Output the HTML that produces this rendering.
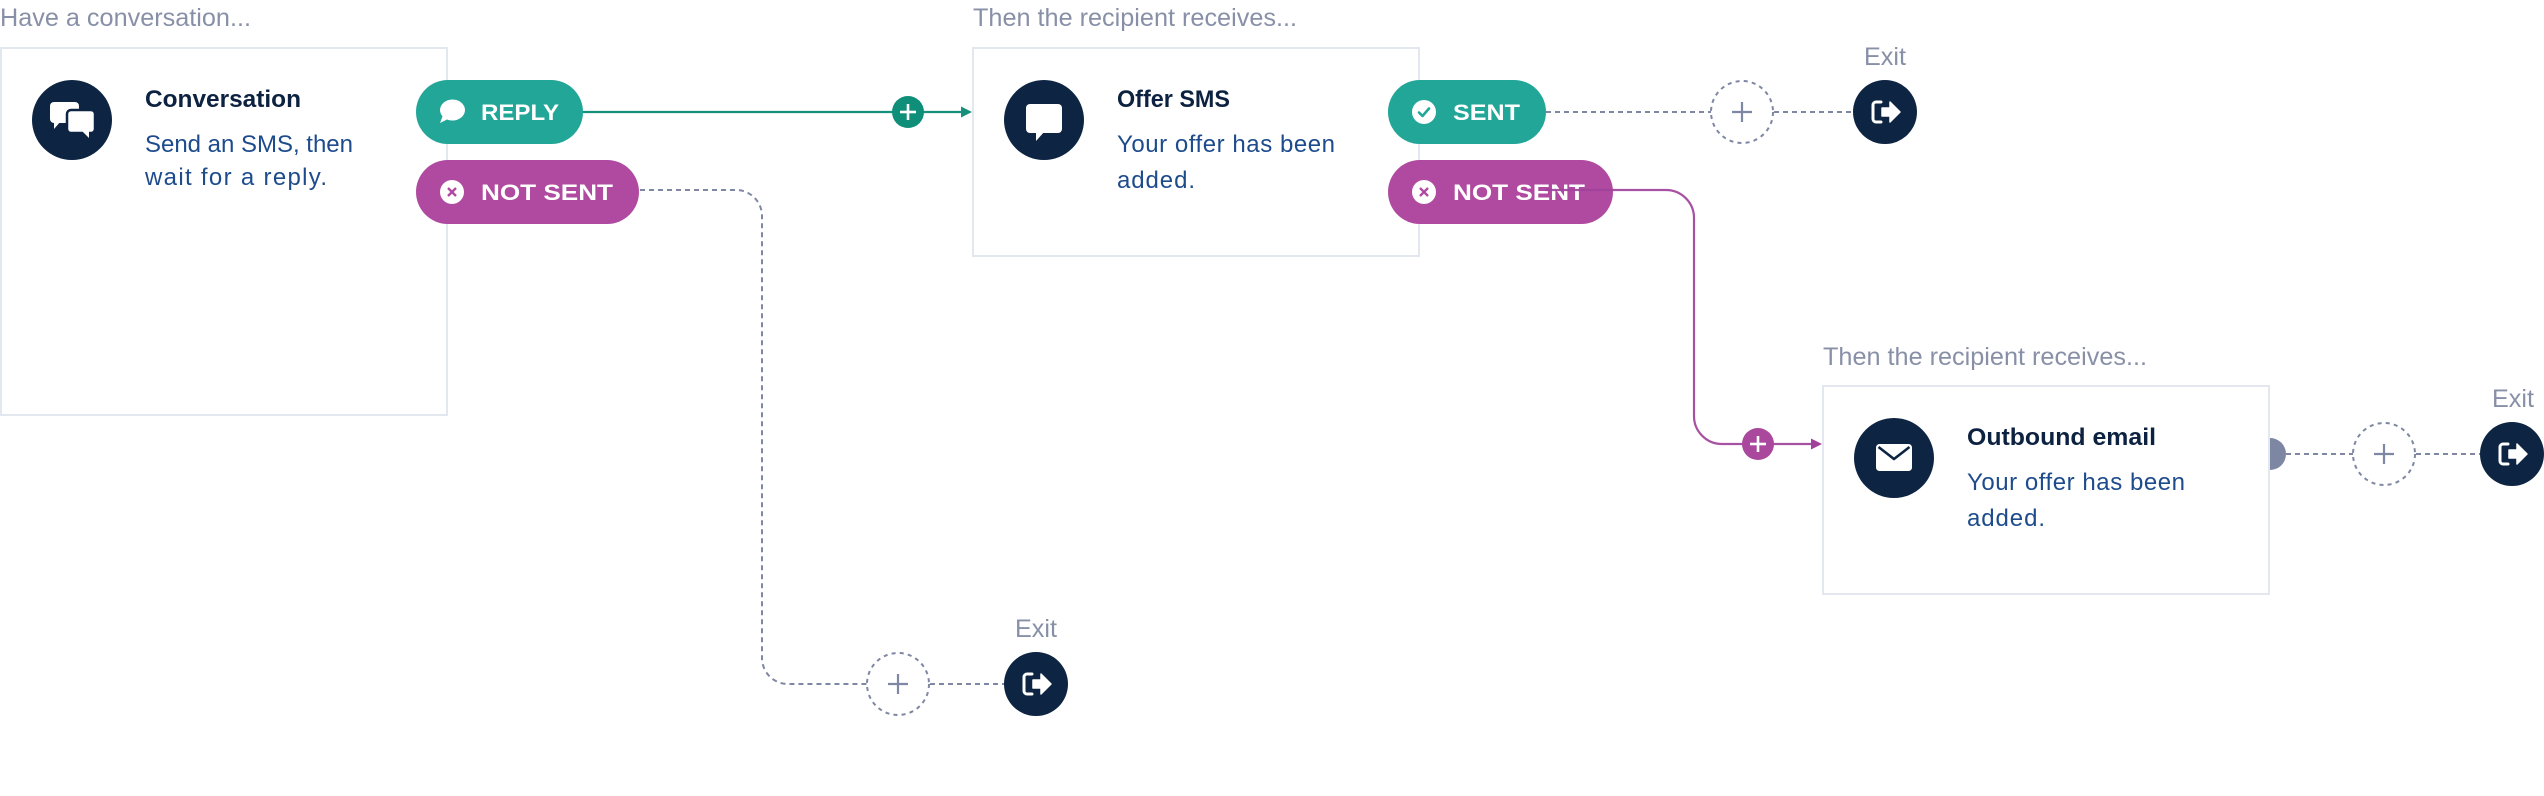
<!DOCTYPE html>
<html>
<head>
<meta charset="utf-8">
<style>
  html, body { margin: 0; padding: 0; background: #ffffff; }
  body { width: 2544px; height: 796px; overflow: hidden; }
  svg { display: block; font-family: "Liberation Sans", "DejaVu Sans", sans-serif; }
  .lbl { fill: #8890a8; font-size: 25px; }
  .ttl { fill: #0d2240; font-size: 24px; font-weight: bold; }
  .bdy { fill: #1d4b8c; font-size: 24px; }
  .pill { fill: #ffffff; font-size: 22px; font-weight: bold; }
  .card { fill: #ffffff; stroke: #e3e7f0; stroke-width: 2; }
  .dash { fill: none; stroke: #7e87a3; stroke-width: 2; stroke-dasharray: 5 4; }
  .dcirc { fill: #ffffff; stroke: #7e87a3; stroke-width: 2; stroke-dasharray: 4 4.2; }
  .dplus { stroke: #7e87a3; stroke-width: 2.2; }
  .exitc { fill: #0d2442; }
</style>
</head>
<body>
<svg width="2544" height="796" viewBox="0 0 2544 796" xmlns="http://www.w3.org/2000/svg">
  <defs>
    <g id="exitIcon">
      <path d="M-5,-10 h-5 a3,3 0 0 0 -3,3 v14 a3,3 0 0 0 3,3 h5" fill="none" stroke="#ffffff" stroke-width="3" stroke-linecap="round"/>
      <path d="M-4,-4 h8 v-6 l10,10 l-10,10 v-6 h-8 z" fill="#ffffff" stroke="#ffffff" stroke-width="1.5" stroke-linejoin="round"/>
    </g>
  </defs>

  <!-- ===== Labels ===== -->
  <text class="lbl" x="0" y="26" textLength="251" lengthAdjust="spacingAndGlyphs">Have a conversation...</text>
  <text class="lbl" x="973" y="26" textLength="324" lengthAdjust="spacingAndGlyphs">Then the recipient receives...</text>
  <text class="lbl" x="1823" y="365" textLength="324" lengthAdjust="spacingAndGlyphs">Then the recipient receives...</text>

  <!-- ===== Connectors (behind) ===== -->
  <line x1="583" y1="112" x2="963" y2="112" stroke="#14907c" stroke-width="2.2"/>
  <polygon points="961,106.5 972,112 961,117.5" fill="#14907c"/>
  <circle cx="908" cy="112" r="16" fill="#0f8f7a"/>
  <line x1="900" y1="112" x2="916" y2="112" stroke="#ffffff" stroke-width="2.6"/>
  <line x1="908" y1="104" x2="908" y2="120" stroke="#ffffff" stroke-width="2.6"/>

  <path class="dash" d="M640,190 H736 A26,26 0 0 1 762,216 V658 A26,26 0 0 0 788,684 H867"/>
  <circle class="dcirc" cx="898" cy="684" r="31"/>
  <line class="dplus" x1="888" y1="684" x2="908" y2="684"/>
  <line class="dplus" x1="898" y1="674" x2="898" y2="694"/>
  <path class="dash" d="M930,684 H1005"/>
  <circle class="exitc" cx="1036" cy="684" r="32"/>
  <use href="#exitIcon" x="1037" y="684"/>
  <text class="lbl" x="1015" y="637" textLength="42" lengthAdjust="spacingAndGlyphs">Exit</text>

  <path class="dash" d="M1546,112 H1711"/>
  <circle class="dcirc" cx="1742" cy="112" r="31"/>
  <line class="dplus" x1="1732" y1="112" x2="1752" y2="112"/>
  <line class="dplus" x1="1742" y1="102" x2="1742" y2="122"/>
  <path class="dash" d="M1774,112 H1853"/>
  <circle class="exitc" cx="1885" cy="112" r="32"/>
  <use href="#exitIcon" x="1886" y="112"/>
  <text class="lbl" x="1864" y="65" textLength="42" lengthAdjust="spacingAndGlyphs">Exit</text>

  <path class="dash" d="M2286,454 H2353"/>
  <circle class="dcirc" cx="2384" cy="454" r="31"/>
  <line class="dplus" x1="2374" y1="454" x2="2394" y2="454"/>
  <line class="dplus" x1="2384" y1="444" x2="2384" y2="464"/>
  <path class="dash" d="M2416,454 H2481"/>
  <circle class="exitc" cx="2512" cy="454" r="32"/>
  <use href="#exitIcon" x="2513" y="454"/>
  <text class="lbl" x="2492" y="407" textLength="42" lengthAdjust="spacingAndGlyphs">Exit</text>

  <!-- ===== Card 1: Conversation ===== -->
  <rect class="card" x="1" y="48" width="446" height="367"/>
  <circle cx="72" cy="120" r="40" fill="#0d2442"/>
  <rect x="50" y="102" width="29" height="21" rx="4" fill="#ffffff"/>
  <polygon points="54,121 54,129 61,121" fill="#ffffff"/>
  <rect x="67" y="110" width="28" height="23" rx="4" fill="#ffffff" stroke="#0d2442" stroke-width="2.5"/>
  <rect x="68.5" y="111.5" width="25" height="20" rx="3" fill="#ffffff"/>
  <polygon points="81,130 89,130 89,138" fill="#ffffff"/>
  <text class="ttl" x="145" y="107" textLength="156" lengthAdjust="spacingAndGlyphs">Conversation</text>
  <text class="bdy" x="145" y="152" textLength="208" lengthAdjust="spacing">Send an SMS, then</text>
  <text class="bdy" x="145" y="185" textLength="182" lengthAdjust="spacing">wait for a reply.</text>

  <rect x="416" y="80" width="167" height="64" rx="32" fill="#21a698"/>
  <ellipse cx="452.5" cy="110" rx="12.5" ry="10.5" fill="#ffffff"/>
  <polygon points="443,115 440,123 450,118" fill="#ffffff"/>
  <text class="pill" x="481" y="120" textLength="78" lengthAdjust="spacingAndGlyphs">REPLY</text>

  <rect x="416" y="160" width="223" height="64" rx="32" fill="#b04aa0"/>
  <circle cx="452" cy="192" r="12" fill="#ffffff"/>
  <line x1="448" y1="188" x2="456" y2="196" stroke="#b04aa0" stroke-width="2.4"/>
  <line x1="456" y1="188" x2="448" y2="196" stroke="#b04aa0" stroke-width="2.4"/>
  <text class="pill" x="481" y="200" textLength="132" lengthAdjust="spacingAndGlyphs">NOT SENT</text>

  <!-- ===== Card 2: Offer SMS ===== -->
  <rect class="card" x="973" y="48" width="446" height="208"/>
  <circle cx="1044" cy="120" r="40" fill="#0d2442"/>
  <rect x="1026" y="104" width="36" height="29" rx="4" fill="#ffffff"/>
  <polygon points="1036,131 1036,141 1045,131" fill="#ffffff"/>
  <text class="ttl" x="1117" y="107" textLength="113" lengthAdjust="spacingAndGlyphs">Offer SMS</text>
  <text class="bdy" x="1117" y="152" textLength="218" lengthAdjust="spacing">Your offer has been</text>
  <text class="bdy" x="1117" y="188" textLength="78" lengthAdjust="spacing">added.</text>

  <rect x="1388" y="80" width="158" height="64" rx="32" fill="#21a698"/>
  <circle cx="1424" cy="112" r="12" fill="#ffffff"/>
  <path d="M1419,112.5 l3.5,3.5 l6.5,-7.5" fill="none" stroke="#21a698" stroke-width="2.6" stroke-linecap="round" stroke-linejoin="round"/>
  <text class="pill" x="1453" y="120" textLength="67" lengthAdjust="spacingAndGlyphs">SENT</text>

  <rect x="1388" y="160" width="225" height="64" rx="32" fill="#b04aa0"/>
  <circle cx="1424" cy="192" r="12" fill="#ffffff"/>
  <line x1="1420" y1="188" x2="1428" y2="196" stroke="#b04aa0" stroke-width="2.4"/>
  <line x1="1428" y1="188" x2="1420" y2="196" stroke="#b04aa0" stroke-width="2.4"/>
  <text class="pill" x="1453" y="200" textLength="132" lengthAdjust="spacingAndGlyphs">NOT SENT</text>

  <path d="M1545,190 H1666 A28,28 0 0 1 1694,218 V416 A28,28 0 0 0 1722,444 H1813" fill="none" stroke="#a0429a" stroke-width="2.2" stroke-opacity="0.92"/>
  <polygon points="1811,438.5 1822,444 1811,449.5" fill="#a0429a"/>
  <circle cx="1758" cy="444" r="16" fill="#a9489c"/>
  <line x1="1750" y1="444" x2="1766" y2="444" stroke="#ffffff" stroke-width="2.6"/>
  <line x1="1758" y1="436" x2="1758" y2="452" stroke="#ffffff" stroke-width="2.6"/>

  <!-- ===== Card 3: Outbound email ===== -->
  <rect class="card" x="1823" y="386" width="446" height="208"/>
  <path d="M2270,438 A16,16 0 0 1 2270,470 Z" fill="#7d86a2"/>
  <circle cx="1894" cy="458" r="40" fill="#0d2442"/>
  <rect x="1876" y="444" width="36" height="27" rx="3.5" fill="#ffffff"/>
  <path d="M1878.5,447 L1894,459 L1909.5,447" fill="none" stroke="#0d2442" stroke-width="2.6" stroke-linejoin="round"/>
  <text class="ttl" x="1967" y="445" textLength="189" lengthAdjust="spacingAndGlyphs">Outbound email</text>
  <text class="bdy" x="1967" y="490" textLength="218" lengthAdjust="spacing">Your offer has been</text>
  <text class="bdy" x="1967" y="526" textLength="78" lengthAdjust="spacing">added.</text>
</svg>
</body>
</html>
